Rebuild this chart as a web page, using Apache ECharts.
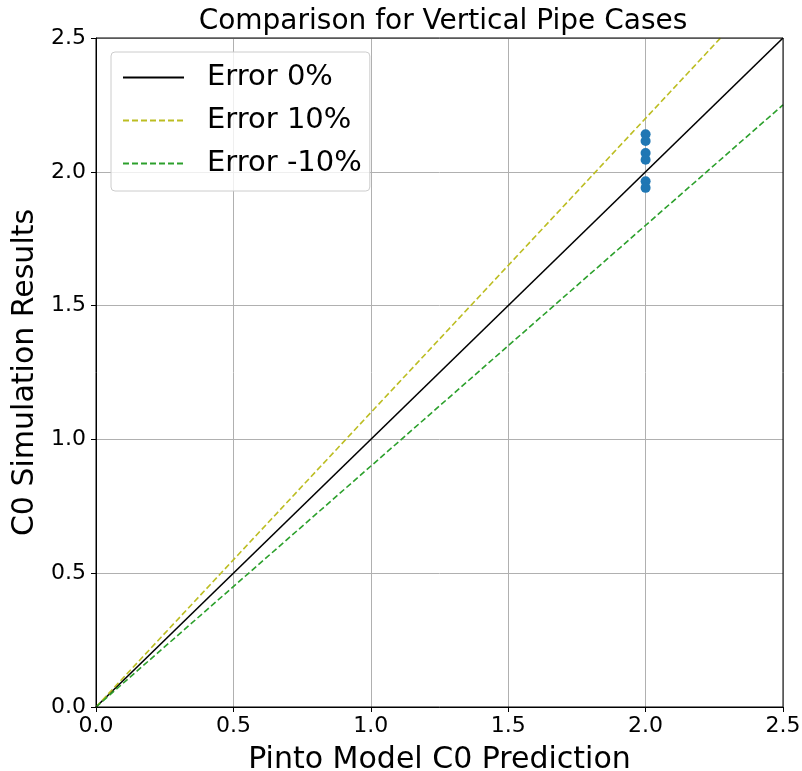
<!DOCTYPE html>
<html><head><meta charset="utf-8">
<script src="https://cdn.jsdelivr.net/npm/echarts@6/dist/echarts.min.js"></script>
<style>html,body{margin:0;padding:0;background:#fff}#c{width:802px;height:771px}</style>
</head><body><div id="c"></div>
<script>
const ticks = [0, 0.5, 1.0, 1.5, 2.0, 2.5];
const lineX = [0, 2.5];
const err0 = [0, 2.5];
const errP10 = [0, 2.75];
const errM10 = [0, 2.25];
const simX = [2.0, 2.0, 2.0, 2.0, 2.0, 2.0];
const simY = [2.14, 2.115, 2.07, 2.045, 1.965, 1.94];

const font = 'DejaVu Sans';
const chart = echarts.init(document.getElementById('c'));
const pair = (xs, ys) => xs.map((x, i) => [x, ys[i]]);
chart.setOption({
  animation: false,
  title: {text: 'Comparison for Vertical Pipe Cases', left: 438, top: 3, textAlign: 'center',
    textStyle: {fontFamily: font, fontSize: 28, fontWeight: 'normal', color: '#000'}},
  grid: {left: 96, right: 19, top: 38, bottom: 64, outerBoundsMode: 'none', containLabel: false},
  legend: {left: 111, top: 52, orient: 'vertical', itemWidth: 61, itemHeight: 14, itemGap: 12,
    padding: [10, 8, 12, 11],
    itemStyle: {opacity: 0},
    backgroundColor: 'rgba(255,255,255,0.8)', borderColor: '#cccccc', borderWidth: 1, borderRadius: 4,
    textStyle: {fontFamily: font, fontSize: 29, lineHeight: 31, color: '#000', padding: [0, 0, 0, 18]},
    data: ['Error 0%', 'Error 10%', 'Error -10%']},
  xAxis: {type: 'value', min: 0, max: 2.5, interval: 0.5,
    name: 'Pinto Model C0 Prediction', nameLocation: 'middle', nameGap: 38,
    nameTextStyle: {fontFamily: font, fontSize: 30, color: '#000'},
    axisLine: {show: true, onZero: false, lineStyle: {color: '#000', width: 1}},
    axisTick: {show: true, length: 5, lineStyle: {color: '#000'}},
    axisLabel: {fontFamily: font, fontSize: 22, color: '#000', margin: 8, formatter: v => v.toFixed(1)},
    splitLine: {show: true, lineStyle: {color: '#b0b0b0', width: 1}}},
  yAxis: {type: 'value', min: 0, max: 2.5, interval: 0.5,
    name: 'C0 Simulation Results', nameLocation: 'middle', nameGap: 48,
    nameTextStyle: {fontFamily: font, fontSize: 30, color: '#000'},
    axisLine: {show: true, onZero: false, lineStyle: {color: '#000', width: 1}},
    axisTick: {show: true, length: 5, lineStyle: {color: '#000'}},
    axisLabel: {fontFamily: font, fontSize: 22, color: '#000', margin: 10, formatter: v => v.toFixed(1)},
    splitLine: {show: true, lineStyle: {color: '#b0b0b0', width: 1}}},
  graphic: [{type: 'rect', shape: {x: 96, y: 38, width: 687, height: 669}, silent: true, z: 10,
    style: {fill: 'none', stroke: '#000', lineWidth: 1}}],
  series: [
    {name: 'Error 0%', type: 'line', data: pair(lineX, err0), symbol: 'none', clip: true,
      lineStyle: {color: '#000', width: 1.6}, itemStyle: {color: '#000'}},
    {name: 'Error 10%', type: 'line', data: pair(lineX, errP10), symbol: 'none', clip: true,
      lineStyle: {color: '#bcbd22', width: 1.6, type: [6, 3]}, itemStyle: {color: '#bcbd22'}},
    {name: 'Error -10%', type: 'line', data: pair(lineX, errM10), symbol: 'none', clip: true,
      lineStyle: {color: '#2ca02c', width: 1.6, type: [6, 3]}, itemStyle: {color: '#2ca02c'}},
    {name: 'sim', type: 'scatter', data: pair(simX, simY), symbolSize: 10,
      itemStyle: {color: '#1f77b4', opacity: 1}, z: 5}
  ]
});
</script></body></html>
